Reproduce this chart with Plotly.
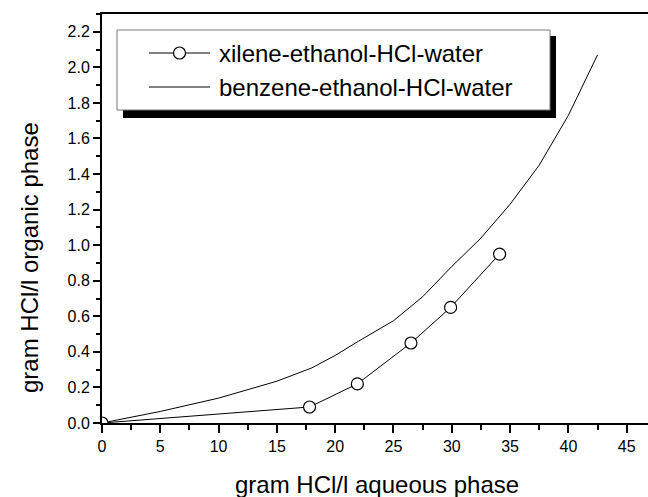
import plotly.graph_objects as go

# ---- data ----
xilene_x = [0, 17.8, 21.9, 26.5, 29.9, 34.1]
xilene_y = [0, 0.09, 0.22, 0.45, 0.65, 0.95]

benzene_x = [0, 5, 10, 15, 18, 20, 22, 25, 27.5, 30, 32.5, 35, 37.5, 40, 42.5]
benzene_y = [0, 0.065, 0.14, 0.235, 0.31, 0.38, 0.46, 0.575, 0.71, 0.88, 1.04, 1.23, 1.45, 1.73, 2.07]

series_names = ["xilene-ethanol-HCl-water", "benzene-ethanol-HCl-water"]
x_title = "gram HCl/l aqueous phase"
y_title = "gram HCl/l organic phase"

FONT = "Arial, Liberation Sans, sans-serif"
W, H = 648, 497
L, R, T, B = 102, 0, 14, 74

fig = go.Figure()
fig.add_trace(go.Scatter(
    x=benzene_x, y=benzene_y, mode="lines", name=series_names[1],
    line=dict(color="black", width=1), showlegend=False))
fig.add_trace(go.Scatter(
    x=xilene_x, y=xilene_y, mode="lines+markers", name=series_names[0],
    line=dict(color="black", width=1),
    marker=dict(symbol="circle", size=12, color="white",
                line=dict(color="black", width=1.2)),
    showlegend=False))

pw = W - L - R
ph = H - T - B

def px(xp):
    return (xp - L) / pw

def py(yp):
    return (H - B - yp) / ph

shapes = []
# legend shadow
shapes.append(dict(type="rect", xref="paper", yref="paper",
                   x0=px(123), x1=px(556), y0=py(118), y1=py(36),
                   fillcolor="black", line=dict(width=0), layer="above"))
# legend box
shapes.append(dict(type="rect", xref="paper", yref="paper",
                   x0=px(117), x1=px(550), y0=py(110), y1=py(30),
                   fillcolor="white", line=dict(color="#777777", width=1), layer="above"))
# legend samples
for yy in (53, 87):
    shapes.append(dict(type="line", xref="paper", yref="paper",
                       x0=px(149), x1=px(210), y0=py(yy), y1=py(yy),
                       line=dict(color="black", width=1), layer="above"))
shapes.append(dict(type="circle", xref="paper", yref="paper",
                   x0=px(173.5), x1=px(185.5), y0=py(59), y1=py(47),
                   fillcolor="white", line=dict(color="black", width=1.2), layer="above"))

annotations = [
    dict(text=series_names[0], xref="paper", yref="paper", x=px(217), y=py(53),
         xanchor="left", yanchor="middle", showarrow=False,
         font=dict(family=FONT, size=24, color="black")),
    dict(text=series_names[1], xref="paper", yref="paper", x=px(217), y=py(87),
         xanchor="left", yanchor="middle", showarrow=False,
         font=dict(family=FONT, size=24, color="black")),
    dict(text=x_title, xref="paper", yref="paper", x=px(377), y=py(484),
         xanchor="center", yanchor="middle", showarrow=False,
         font=dict(family=FONT, size=24, color="black")),
    dict(text=y_title, xref="paper", yref="paper", x=px(29), y=py(258),
         xanchor="center", yanchor="middle", showarrow=False, textangle=-90,
         font=dict(family=FONT, size=24, color="black")),
]

fig.update_layout(
    width=W, height=H,
    margin=dict(l=L, r=R, t=T, b=B, pad=0),
    paper_bgcolor="white", plot_bgcolor="white",
    shapes=shapes, annotations=annotations,
    showlegend=False,
    font=dict(family=FONT, color="black"),
)
fig.update_xaxes(
    range=[0, 46.83], showgrid=False, zeroline=False,
    showline=True, linecolor="black", linewidth=2, mirror=True,
    ticks="outside", ticklen=8, tickwidth=1.5, tickcolor="black",
    tick0=0, dtick=5, tickfont=dict(family=FONT, size=16, color="black"),
    minor=dict(dtick=2.5, ticks="outside", ticklen=5, tickwidth=1.5, tickcolor="black"),
)
fig.update_yaxes(
    range=[0, 2.3], showgrid=False, zeroline=False,
    showline=True, linecolor="black", linewidth=2, mirror=False,
    ticks="outside", ticklen=7, tickwidth=1.5, tickcolor="black",
    tick0=0, dtick=0.2, tickformat=".1f",
    tickfont=dict(family=FONT, size=16, color="black"),
    minor=dict(dtick=0.1, ticks="outside", ticklen=4, tickwidth=1.5, tickcolor="black"),
)

fig.write_html("out.html")
